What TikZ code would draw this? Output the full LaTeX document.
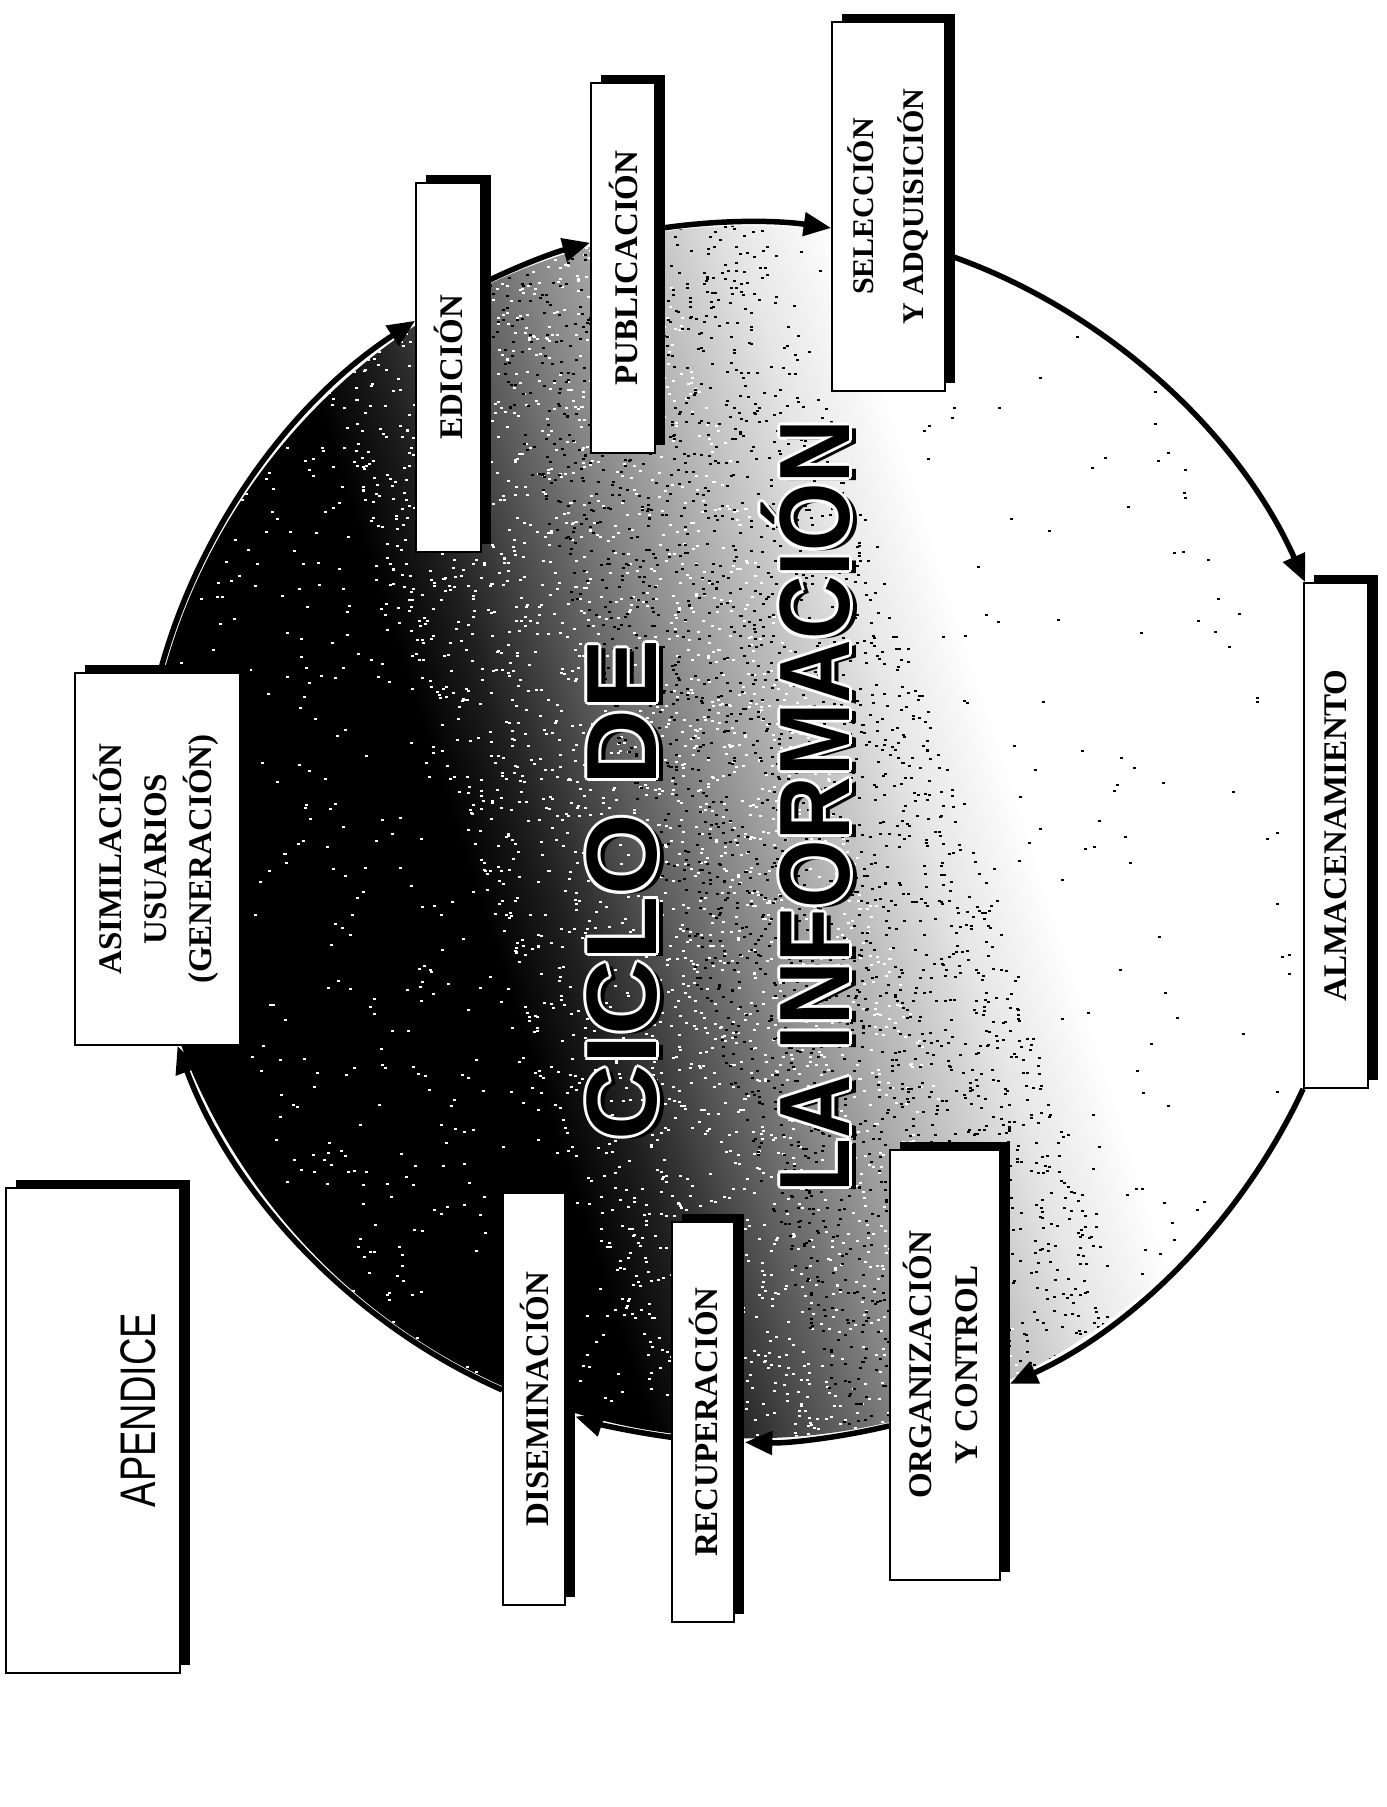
\documentclass[tikz,border=0pt]{standalone}
\usepackage{fontspec}
\setmainfont{Liberation Serif}
\newfontfamily\arialfam{Liberation Sans}
\usetikzlibrary{arrows.meta,shadows,calc}

\pgfdeclarelayer{disk}
\pgfdeclarelayer{arcs}
\pgfsetlayers{disk,arcs,main}

% grey ramp of the cycle disk: black on the lower left, white on the upper right
\pgfdeclarehorizontalshading{diskshade}{100bp}{color(0bp)=(black); color(38.5bp)=(black);
  color(41.5bp)=(black!88); color(45bp)=(black!68); color(48.5bp)=(black!48);
  color(52.25bp)=(black!30); color(57bp)=(black!10); color(61bp)=(white); color(100bp)=(white)}

\tikzset{
  stage/.style={draw, line width=0.035cm, fill=white, inner sep=0pt,
    general shadow={fill=black, shadow xshift=0.2cm, shadow yshift=0.16cm},
    font=\fontsize{18.8pt}{25.5pt}\selectfont\bfseries},
  flow/.style={line width=0.11cm, -{Triangle[length=0.55cm,width=0.46cm]}, looseness=0.87},
  ttl/.style={rotate=90, inner sep=0pt, font=\arialfam\bfseries\fontsize{56.9pt}{60pt}\selectfont},
}

% one grain speck of the disk, placed by its position t along the ramp and w across it
\newcommand\diskspeck[3]{%
  \pgfmathsetmacro{\sX}{749+(#1-0.5)*1160.3+#2*188.5}%
  \pgfmathsetmacro{\sY}{832-(#1-0.5)*377.0+#2*580.1}%
  \fill[#3] (\sX,\sY) rectangle ++(3,2);%
}

\begin{document}
\begin{tikzpicture}[x=0.02cm, y=-0.02cm]
\useasboundingbox (0,0) rectangle (1386,1807);

\begin{pgfonlayer}{disk}
  \fill[white] (0,0) rectangle (1386,1807);
  \shade[shading=diskshade, shading angle=18] (749,832) circle[radius=12.13cm];
  % halftone grain of the disk
  \pgfmathsetseed{2718}
  \begin{scope}
    \clip (749,832) circle[radius=12.13cm];
    \foreach \k in {1,...,2600}{
      \pgfmathsetmacro{\sT}{0.28+0.3*rnd}\pgfmathsetmacro{\sW}{rand}
      \diskspeck{\sT}{\sW}{white}
    }
    \foreach \k in {1,...,500}{
      \pgfmathsetmacro{\sT}{0.05+0.25*rnd}\pgfmathsetmacro{\sW}{rand}
      \diskspeck{\sT}{\sW}{white}
    }
    \foreach \k in {1,...,2600}{
      \pgfmathsetmacro{\sT}{0.42+0.25*rnd}\pgfmathsetmacro{\sW}{rand}
      \diskspeck{\sT}{\sW}{black}
    }
    \foreach \k in {1,...,160}{
      \pgfmathsetmacro{\sT}{0.64+0.3*rnd}\pgfmathsetmacro{\sW}{rand}
      \diskspeck{\sT}{\sW}{black}
    }
  \end{scope}

  % title: shadow, white outline, black letters
  \node[ttl] (ciclo-s) at (629,893) {\scalebox{1.05}[1]{CICLO DE}};
  \foreach \a in {0,45,...,315}
    \node[ttl, text=white, shift={(\a:0.06cm)}] (ciclo-w\a) at (622,890) {\scalebox{1.05}[1]{CICLO DE}};
  \node[ttl] (ciclo) at (622,890) {\scalebox{1.05}[1]{CICLO DE}};

  \node[ttl] (info-s) at (813,809) {\scalebox{0.88}[1]{LA INFORMACIÓN}};
  \foreach \a in {0,45,...,315}
    \node[ttl, text=white, shift={(\a:0.06cm)}] (info-w\a) at (806,806) {\scalebox{0.88}[1]{LA INFORMACIÓN}};
  \node[ttl] (info) at (806,806) {\scalebox{0.88}[1]{LA INFORMACIÓN}};
\end{pgfonlayer}

% stages of the cycle
\node[stage, minimum width=3.30cm, minimum height=7.44cm] (asi) at (157.5,859)
  {\rotatebox{90}{\begin{tabular}{@{}c@{}}ASIMILACIÓN\\USUARIOS\\(GENERACIÓN)\end{tabular}}};
\node[stage, minimum width=1.30cm, minimum height=7.38cm] (edi) at (448.5,367.5)
  {\rotatebox{90}{EDICIÓN}};
\node[stage, minimum width=1.28cm, minimum height=7.40cm] (pub) at (623,268)
  {\rotatebox{90}{PUBLICACIÓN}};
\node[stage, minimum width=2.26cm, minimum height=7.38cm,
  font=\fontsize{17.1pt}{28.5pt}\selectfont\bfseries] (sel) at (888.5,206.5)
  {\rotatebox{90}{\begin{tabular}{@{}c@{}}SELECCIÓN\\Y ADQUISICIÓN\end{tabular}}};
\node[stage, minimum width=1.28cm, minimum height=10.10cm] (alm) at (1336,835.5)
  {\rotatebox{90}{ALMACENAMIENTO}};
\node[stage, minimum width=2.20cm, minimum height=8.60cm,
  font=\fontsize{18.8pt}{26.2pt}\selectfont\bfseries] (org) at (945,1365)
  {\rotatebox{90}{\begin{tabular}{@{}c@{}}ORGANIZACIÓN\\Y CONTROL\end{tabular}}};
\node[stage, minimum width=1.24cm, minimum height=8.00cm] (rec) at (703,1422)
  {\rotatebox{90}{RECUPERACIÓN}};
\node[stage, minimum width=1.24cm, minimum height=8.24cm] (dis) at (534,1399)
  {\rotatebox{90}{DISEMINACIÓN}};

% appendix tab
\node[stage, minimum width=3.48cm, minimum height=9.70cm] (ape) at (93,1430.5) {};
\node[rotate=90, inner sep=0pt, font=\arialfam\fontsize{28.45pt}{30pt}\selectfont]
  (apelabel) at (138,1410) {\scalebox{0.76}[1]{APENDICE}};

% arcs of the cycle, running clockwise
\begin{pgfonlayer}{arcs}
  \draw[flow, bend left=20.9] ($(asi.north west)!0.515!(asi.north east)$) to ($(edi.north west)!0.374!(edi.south west)$);
  \draw[flow, bend left=5.55] ($(edi.north east)!0.274!(edi.south east)$) to ($(pub.north west)!0.432!(pub.south west)$);
  \draw[flow, bend left=8.35] ($(pub.north east)!0.395!(pub.south east)$) to ($(sel.north west)!0.558!(sel.south west)$);
  \draw[flow, bend left=23.6] ($(sel.north east)!0.629!(sel.south east)$) to ($(alm.north west)!0.03!(alm.north east)$);
  \draw[flow, bend left=20.45, shorten >=0.2cm] (alm.south west) to ($(org.north east)!0.553!(org.south east)$);
  \draw[flow, bend left=7.4, shorten >=0.2cm] ($(org.north west)!0.641!(org.south west)$) to ($(rec.north east)!0.55!(rec.south east)$);
  \draw[flow, bend left=5.1, shorten >=0.2cm] ($(rec.north west)!0.538!(rec.south west)$) to ($(dis.north east)!0.535!(dis.south east)$);
  \draw[flow, bend left=22.9] ($(dis.north west)!0.478!(dis.south west)$) to ($(asi.south west)!0.62!(asi.south east)$);
\end{pgfonlayer}
\end{tikzpicture}
\end{document}
